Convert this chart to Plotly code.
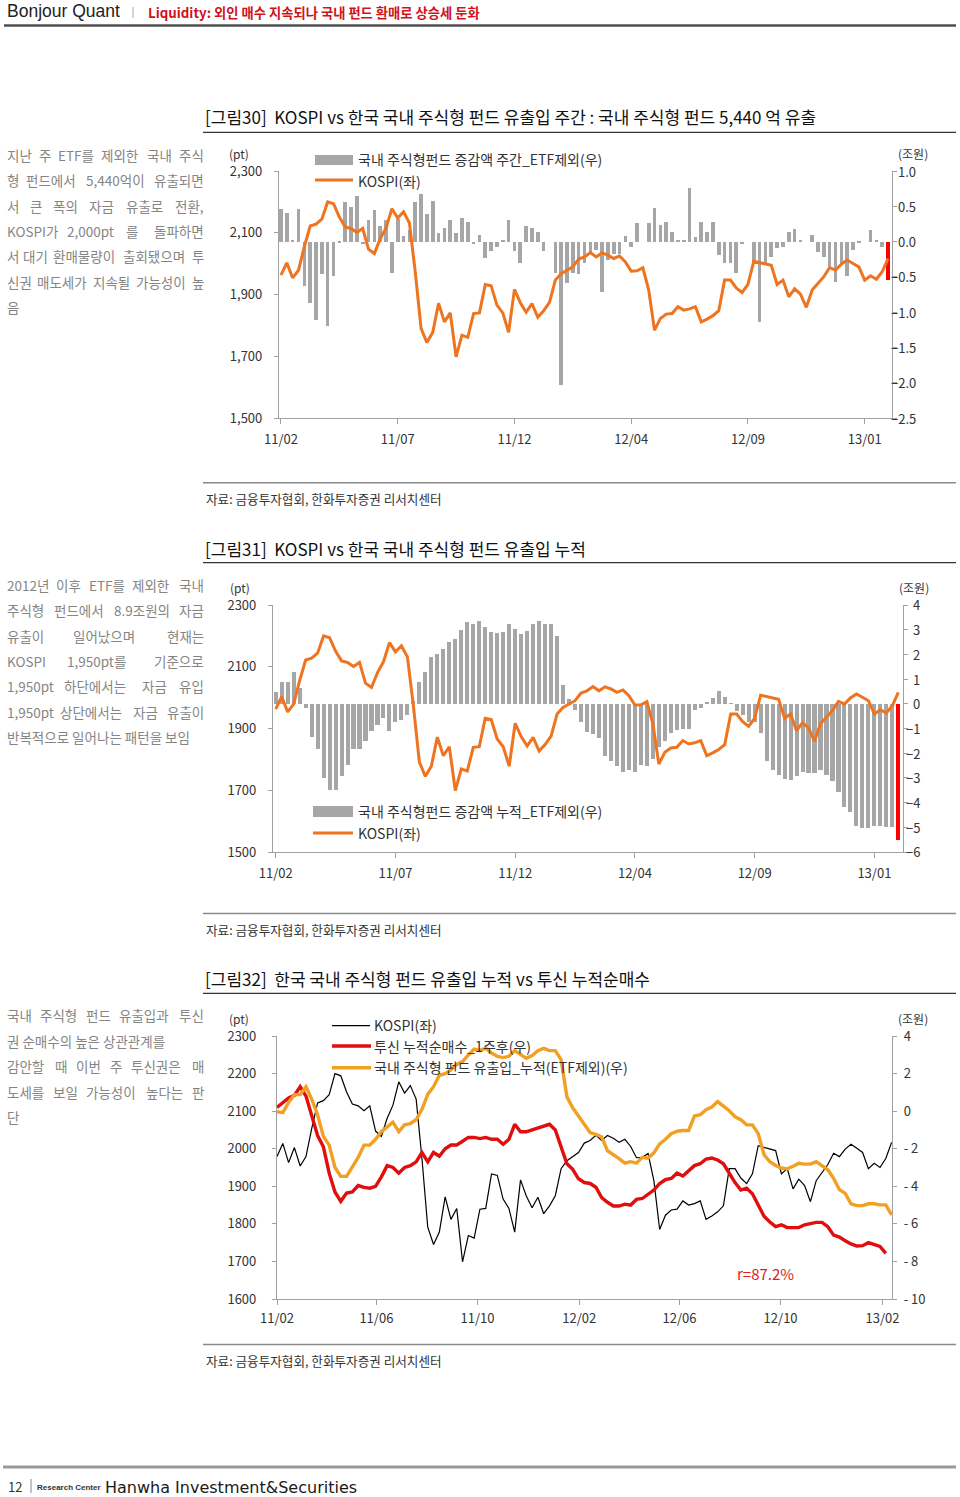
import plotly.graph_objects as go
import pandas as pd

W, H = 960, 1497
FONT = "Noto Sans CJK KR"

# ---------------- DATA ----------------
# Weekly index labels (charts 30 & 31)
tick_idx_weekly = [0, 20, 40, 60, 80, 100]
tick_labels_weekly = ["11/02", "11/07", "11/12", "12/04", "12/09", "13/01"]

# KOSPI weekly (pt)
kospi = [1963, 2003, 1954, 1979, 2055, 2122, 2128, 2144, 2200, 2194,
         2151, 2119, 2114, 2101, 2114, 2047, 2033, 2081, 2116, 2178,
         2148, 2168, 2132, 1974, 1791, 1745, 1778, 1872, 1812, 1841,
         1699, 1769, 1762, 1839, 1841, 1933, 1929, 1866, 1841, 1778,
         1917, 1874, 1843, 1871, 1827, 1848, 1875, 1947, 1968, 1979,
         1990, 2015, 2022, 2036, 2022, 2035, 2028, 2017, 2025, 2006,
         1976, 1977, 1987, 1915, 1785, 1823, 1837, 1839, 1861, 1850,
         1854, 1861, 1812, 1821, 1832, 1848, 1947, 1947, 1922, 1907,
         1933, 2008, 2004, 2001, 1995, 1933, 1947, 1893, 1919, 1902,
         1859, 1915, 1936, 1958, 1988, 1979, 1999, 2012, 2001, 1990,
         1947, 1961, 1950, 1974, 2017]

# 국내 주식형펀드 증감액 주간_ETF제외 (조원)
fund_weekly = [0.46, 0.41, 0.01, 0.46, -0.63, -0.87, -1.11, -0.46, -1.19, -0.48,
               -0.01, 0.56, 0.49, 0.65, -0.04, 0.31, 0.45, 0.22, 0.31, -0.44,
               0.32, 0.08, 0.16, 0.56, 0.68, 0.39, 0.58, 0.12, 0.20, 0.31,
               0.12, 0.34, 0.28, -0.04, 0.09, -0.23, -0.13, -0.07, 0.03, 0.31,
               -0.13, -0.30, 0.22, 0.20, 0.14, -0.13, 0.00, -0.45, -2.03, -0.58,
               -0.45, -0.46, -0.30, -0.17, -0.12, -0.71, -0.26, -0.17, -0.17, 0.08,
               -0.07, 0.26, 0.00, 0.26, 0.47, 0.24, 0.28, 0.14, 0.03, 0.02,
               0.76, 0.06, 0.28, 0.14, 0.28, -0.19, -0.30, -0.30, -0.44, -0.04,
               0.00, -0.30, -1.13, -0.31, -0.21, -0.09, -0.07, 0.13, 0.18, 0.02,
               0.00, 0.09, -0.14, -0.21, -0.35, -0.57, -0.31, -0.48, -0.12, -0.02,
               0.00, 0.16, 0.02, -0.07, -0.544]

# 국내 주식형펀드 증감액 누적_ETF제외 (조원)
fund_cum = [0.46, 0.88, 0.88, 1.30, 0.62, -0.19, -1.34, -1.81, -3.00, -3.47,
            -3.47, -2.93, -2.46, -1.81, -1.81, -1.50, -1.09, -0.84, -0.59, -1.09,
            -0.73, -0.66, -0.46, 0.10, 0.89, 1.30, 1.91, 2.00, 2.20, 2.49,
            2.64, 2.99, 3.30, 3.22, 3.35, 3.09, 2.92, 2.85, 2.92, 3.22,
            3.03, 2.81, 2.96, 3.22, 3.34, 3.22, 3.22, 2.74, 0.76, 0.18,
            -0.26, -0.73, -1.14, -1.23, -1.38, -2.11, -2.31, -2.53, -2.77, -2.69,
            -2.77, -2.46, -2.51, -2.22, -1.74, -1.50, -1.20, -1.07, -1.03, -1.03,
            -0.26, -0.19, 0.08, 0.22, 0.51, 0.28, 0.02, -0.30, -0.46, -0.73,
            -0.73, -1.20, -2.32, -2.69, -2.89, -3.03, -3.07, -2.93, -2.78, -2.82,
            -2.82, -2.69, -2.89, -3.12, -3.58, -4.18, -4.38, -4.93, -5.03, -5.03,
            -4.93, -4.93, -4.99, -4.99, -5.53]

# Chart 32 (weekly, two extra leading weeks)
kospi_lead32 = [1979, 2014]
fund_cum_lead32 = [-0.03, -0.08]
tusin_cum = [0.20, 0.44, 0.70, 0.84, 1.30, 0.80, -0.20, -1.30, -1.90, -3.30,
             -4.30, -4.80, -4.36, -4.30, -3.96, -4.06, -4.10, -4.00, -3.50, -2.90,
             -3.00, -3.30, -3.00, -2.90, -2.70, -2.20, -2.70, -2.20, -2.40, -2.00,
             -1.80, -1.80, -1.60, -1.40, -1.40, -1.46, -1.40, -1.50, -1.50, -1.76,
             -1.50, -0.70, -1.10, -1.10, -1.00, -0.90, -0.80, -0.70, -1.00, -1.90,
             -2.80, -3.10, -3.60, -3.80, -3.85, -4.05, -4.60, -4.85, -5.05, -5.05,
             -4.95, -5.00, -4.70, -4.65, -4.45, -4.20, -3.85, -3.65, -3.58, -3.30,
             -3.45, -3.15, -2.90, -2.80, -2.55, -2.50, -2.60, -2.80, -3.30, -3.80,
             -4.20, -4.10, -4.40, -5.05, -5.60, -5.90, -6.15, -6.05, -6.20, -6.20,
             -6.20, -6.05, -5.97, -5.92, -5.92, -6.15, -6.60, -6.70, -6.90, -7.07,
             -7.18, -7.16, -7.00, -7.09, -7.20, -7.57, None]
start32 = "2011-02-01"
tick_vals32 = ["2011-02-01", "2011-06-01", "2011-10-01", "2012-02-01",
               "2012-06-01", "2012-10-01", "2013-02-01"]
tick_labels32 = ["11/02", "11/06", "11/10", "12/02", "12/06", "12/10", "13/02"]
right_ticks32 = [4, 2, 0, -2, -4, -6, -8, -10]
right_labels32 = ["4", "2", "0", "- 2", "- 4", "- 6", "- 8", "- 10"]

kospi32 = kospi_lead32 + kospi
fund32 = fund_cum_lead32 + fund_cum
dates32 = pd.date_range(start32, periods=len(kospi32), freq="7D")

idx = list(range(len(kospi)))

# ---------------- helpers ----------------
def PX(x):
    return x / W

def PY(y):
    return 1 - y / H

annotations = []
shapes = []

def ann(text, x, y, size=13, color="#333333", xanchor="left", family=FONT, yanchor="middle"):
    annotations.append(dict(text=text, x=PX(x), y=PY(y), xref="paper", yref="paper",
                            showarrow=False, xanchor=xanchor, yanchor=yanchor,
                            font=dict(size=size, color=color, family=family), borderpad=0))

def hline(x0, x1, y, color, width):
    shapes.append(dict(type="line", xref="paper", yref="paper", x0=PX(x0), x1=PX(x1),
                       y0=PY(y), y1=PY(y), line=dict(color=color, width=width)))

def rect(x0, x1, y0, y1, color):
    shapes.append(dict(type="rect", xref="paper", yref="paper", x0=PX(x0), x1=PX(x1),
                       y0=PY(y1), y1=PY(y0), fillcolor=color, line=dict(width=0)))

def em_width(s):
    w = 0.0
    for ch in s:
        if "\uac00" <= ch <= "\ud7a3":
            w += 1.0
        elif ch.isdigit():
            w += 0.555
        elif ch in ",.:;":
            w += 0.26
        elif ch in "()":
            w += 0.34
        elif ch == "I":
            w += 0.27
        elif ch.isupper():
            w += 0.58
        else:
            w += 0.5
    return w

def paragraph(lines, ys, justify, size=13.5, color="#858585", x0=6, x1=205):
    for line, y, j in zip(lines, ys, justify):
        if not j:
            ann(line, x0, y, size=size, color=color)
            continue
        words = line.split()
        widths = [em_width(wd) * size for wd in words]
        gap = (x1 - x0 - sum(widths)) / (len(words) - 1)
        gap = max(gap, 2.5)
        x = x0
        for k, (wd, wdt) in enumerate(zip(words, widths)):
            if k == len(words) - 1:
                ann(wd, x1, y, size=size, color=color, xanchor="right")
            else:
                ann(wd, x, y, size=size, color=color)
            x += wdt + gap

# ---------------- figure ----------------
fig = go.Figure()
GRAY = "#A6A6A6"
ORANGE = "#EE7420"
AXC = "#A0A0A0"
TICKF = dict(size=13, color="#333333", family=FONT)

bar_colors30 = [GRAY] * (len(fund_weekly) - 1) + ["#FF0000"]
bar_colors31 = [GRAY] * (len(fund_cum) - 1) + ["#FF0000"]

fig.add_trace(go.Bar(x=idx, y=fund_weekly, marker=dict(color=bar_colors30, line=dict(width=0)),
                     width=0.62, xaxis="x", yaxis="y", name="국내 주식형펀드 증감액 주간_ETF제외(우)"))
fig.add_trace(go.Scatter(x=idx, y=kospi, mode="lines", line=dict(color=ORANGE, width=3),
                         xaxis="x", yaxis="y2", name="KOSPI(좌)"))

fig.add_trace(go.Bar(x=idx, y=fund_cum, marker=dict(color=bar_colors31, line=dict(width=0)),
                     width=0.68, xaxis="x2", yaxis="y3", name="국내 주식형펀드 증감액 누적_ETF제외(우)"))
fig.add_trace(go.Scatter(x=idx, y=kospi, mode="lines", line=dict(color=ORANGE, width=3),
                         xaxis="x2", yaxis="y4", name="KOSPI(좌)"))

fig.add_trace(go.Scatter(x=dates32, y=kospi32, mode="lines", line=dict(color="#000000", width=1.2),
                         xaxis="x3", yaxis="y5", name="KOSPI(좌)"))
fig.add_trace(go.Scatter(x=dates32, y=tusin_cum, mode="lines", line=dict(color="#E00E0E", width=3.4),
                         xaxis="x3", yaxis="y6", name="투신 누적순매수_1주후(우)"))
fig.add_trace(go.Scatter(x=dates32, y=fund32, mode="lines", line=dict(color="#F2A024", width=3.4),
                         xaxis="x3", yaxis="y6", name="국내 주식형 펀드 유출입_누적(ETF제외)(우)"))

common_ax = dict(showgrid=False, zeroline=False, showline=True, linecolor=AXC, linewidth=1.2,
                 ticks="outside", tickcolor=AXC, tickwidth=1.2, tickfont=TICKF, automargin=False)

d30x = [PX(279), PX(892)]
d30y = [PY(418.3), PY(171)]
d31x = [PX(273), PX(903)]
d31y = [PY(852), PY(605)]
d32x = [PX(277), PX(892)]
d32y = [PY(1299), PY(1036)]

fig.update_layout(
    width=W, height=H, margin=dict(l=0, r=0, t=0, b=0, pad=0, autoexpand=False),
    paper_bgcolor="white", plot_bgcolor="rgba(0,0,0,0)",
    showlegend=False, bargap=0, font=dict(family=FONT),
    xaxis=dict(domain=d30x, anchor="y", range=[-0.34, 104.68], tickmode="array",
               tickvals=tick_idx_weekly, ticktext=tick_labels_weekly, ticklen=5,
               ticklabelstandoff=4, **common_ax),
    yaxis=dict(domain=d30y, anchor="x", side="right", range=[-2.5, 1.0], dtick=0.5,
               showticklabels=False, ticklen=4, **common_ax),
    yaxis2=dict(overlaying="y", anchor="x", side="left", range=[1500, 2300], tick0=1500, dtick=200,
                tickformat=",d", ticklen=4, ticklabelstandoff=9, **common_ax),
    xaxis2=dict(domain=d31x, anchor="y3", range=[-0.45, 104.78], tickmode="array",
                tickvals=tick_idx_weekly, ticktext=tick_labels_weekly, ticklen=5,
                ticklabelstandoff=4, **common_ax),
    yaxis3=dict(domain=d31y, anchor="x2", side="right", range=[-6, 4], dtick=1,
                showticklabels=False, ticklen=4, **common_ax),
    yaxis4=dict(overlaying="y3", anchor="x2", side="left", range=[1500, 2300], tick0=1500, dtick=200,
                tickformat="d", ticklen=4, ticklabelstandoff=9, **common_ax),
    xaxis3=dict(domain=d32x, anchor="y5", type="date", range=["2011-02-01", "2013-02-12 12:00"],
                tickmode="array", tickvals=tick_vals32, ticktext=tick_labels32, ticklen=5,
                ticklabelstandoff=2, **common_ax),
    yaxis5=dict(domain=d32y, anchor="x3", side="left", range=[1600, 2300], dtick=100,
                tickformat="d", ticklen=4, ticklabelstandoff=13, **common_ax),
    yaxis6=dict(overlaying="y5", anchor="x3", side="right", range=[-10, 4], tickmode="array",
                tickvals=right_ticks32, ticktext=right_labels32, ticklen=4,
                ticklabelstandoff=4, **common_ax),
)

# right-axis tick labels (right aligned) for charts 30 & 31
for v in [1.0, 0.5, 0.0, -0.5, -1.0, -1.5, -2.0, -2.5]:
    annotations.append(dict(text=f"{v:.1f}".replace("-", "\u2212"), x=PX(917), xref="paper",
                            y=v, yref="y", showarrow=False, xanchor="right", yanchor="middle",
                            font=TICKF, borderpad=0))
for v in range(4, -7, -1):
    annotations.append(dict(text=str(v).replace("-", "\u2212"), x=PX(921), xref="paper",
                            y=v, yref="y3", showarrow=False, xanchor="right", yanchor="middle",
                            font=TICKF, borderpad=0))

# ---------------- page text ----------------
ann("Bonjour Quant", 6, 11.5, size=17.5, color="#222222", family="Liberation Sans")
shapes.append(dict(type="line", xref="paper", yref="paper", x0=PX(133), x1=PX(133),
                   y0=PY(7), y1=PY(18), line=dict(color="#aaaaaa", width=1)))
ann("<b>Liquidity: 외인 매수 지속되나 국내 펀드 환매로 상승세 둔화</b>", 147, 12, size=13.3,
    color="#D0121B")
hline(4, 956, 25.5, "#505050", 2.5)

TITLE_F = 17
ann("[그림30]\u00a0\u00a0KOSPI vs 한국 국내 주식형 펀드 유출입 주간 : 국내 주식형 펀드 5,440 억 유출",
    204, 117, size=TITLE_F, color="#111111")
hline(203, 956, 132.3, "#333333", 1.2)
ann("[그림31]\u00a0\u00a0KOSPI vs 한국 국내 주식형 펀드 유출입 누적", 204, 548, size=TITLE_F, color="#111111")
hline(203, 956, 562.7, "#333333", 1.2)
ann("[그림32]\u00a0\u00a0한국 국내 주식형 펀드 유출입 누적 vs 투신 누적순매수", 204, 978, size=TITLE_F,
    color="#111111")
hline(203, 956, 993.3, "#333333", 1.2)

for ysep, ysrc in [(482.7, 498), (913.5, 929), (1344.5, 1360)]:
    hline(203, 956, ysep, "#8a8a8a", 1.5)
    ann("자료: 금융투자협회, 한화투자증권 리서치센터", 205, ysrc, size=12.6, color="#333333")

paragraph(["지난 주 ETF를 제외한 국내 주식",
           "형 펀드에서 5,440억이 유출되면",
           "서 큰 폭의 자금 유출로 전환,",
           "KOSPI가 2,000pt 를 돌파하면",
           "서 대기 환매물량이 출회됐으며 투",
           "신권 매도세가 지속될 가능성이 높",
           "음"],
          [155, 180.3, 205.7, 231, 256.3, 281.7, 307],
          [True, True, True, True, True, True, False])
paragraph(["2012년 이후 ETF를 제외한 국내",
           "주식형 펀드에서 8.9조원의 자금",
           "유출이 일어났으며 현재는",
           "KOSPI 1,950pt를 기준으로",
           "1,950pt 하단에서는 자금 유입",
           "1,950pt 상단에서는 자금 유출이",
           "반복적으로 일어나는 패턴을 보임"],
          [585, 610.3, 635.7, 661, 686.3, 711.7, 737],
          [True, True, True, True, True, True, False])
paragraph(["국내 주식형 펀드 유출입과 투신",
           "권 순매수의 높은 상관관계를",
           "감안할 때 이번 주 투신권은 매",
           "도세를 보일 가능성이 높다는 판",
           "단"],
          [1015, 1040.7, 1066.3, 1091.7, 1117],
          [True, False, True, True, False])

UNIT = dict(size=12, color="#333333")
ann("(pt)", 228, 153, **UNIT)
ann("(조원)", 897, 153, **UNIT)
ann("(pt)", 229, 587, **UNIT)
ann("(조원)", 898, 587, **UNIT)
ann("(pt)", 228, 1018, **UNIT)
ann("(조원)", 897, 1018, **UNIT)

LEG = dict(size=14, color="#333333")
rect(315, 353, 155, 165, GRAY)
ann("국내 주식형펀드 증감액 주간_ETF제외(우)", 357, 159, **LEG)
hline(315, 353, 180, ORANGE, 3)
ann("KOSPI(좌)", 357, 181, **LEG)
rect(313, 353, 806, 817, GRAY)
ann("국내 주식형펀드 증감액 누적_ETF제외(우)", 357, 811, **LEG)
hline(313, 353, 833, ORANGE, 3)
ann("KOSPI(좌)", 357, 833, **LEG)
hline(332, 370, 1025.7, "#000000", 1.2)
ann("KOSPI(좌)", 373, 1025, **LEG)
hline(332, 371, 1046, "#E00E0E", 3.4)
ann("투신 누적순매수_1주후(우)", 373, 1046, **LEG)
hline(332, 371, 1067.7, "#F2A024", 3.4)
ann("국내 주식형 펀드 유출입_누적(ETF제외)(우)", 373, 1067, **LEG)

ann("r=87.2%", 765, 1273, size=15, color="#E0201A", xanchor="center")

hline(3, 956, 1467, "#9a9a9a", 3)
ann("12", 7, 1486, size=13, color="#333333")
shapes.append(dict(type="line", xref="paper", yref="paper", x0=PX(31), x1=PX(31),
                   y0=PY(1479), y1=PY(1493), line=dict(color="#888888", width=1)))
ann("<b>Research Center</b>", 36, 1487, size=8, color="#333333", family="Liberation Sans")
ann("Hanwha Investment&Securities", 104, 1487, size=16, color="#1a1a1a", family="DejaVu Sans")

fig.update_layout(annotations=annotations, shapes=shapes)

fig.write_html("out.html", config={"displayModeBar": False},
               post_script="document.body.style.margin='0';document.body.style.overflow='hidden';")
